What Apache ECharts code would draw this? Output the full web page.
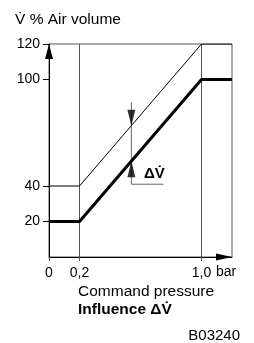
<!DOCTYPE html>
<html>
<head>
<meta charset="utf-8">
<script src="https://cdn.jsdelivr.net/npm/echarts@6/dist/echarts.min.js"></script>
<style>
  html, body { margin: 0; padding: 0; background: #fff; }
  #chart { width: 254px; height: 343px; }
</style>
</head>
<body>
<div id="chart"></div>
<script>
// command pressure (bar) and air volume (%)
var pressure = [0, 0.2, 1.0, 1.2];
var volumeLow = [20, 20, 100, 100];
var volumeHigh = [40, 40, 120, 120];

var yTicks = [20, 40, 100, 120];
var xTicks = [0, 0.2, 1.0];

// delta V marker
var deltaX = 0.54;
var deltaTop = 87;
var deltaBase = 41;
var deltaEndX = 0.75;
var arrowDownAt = 74;
var arrowUpAt = 54;

var font = "'Liberation Sans', Arial, sans-serif";

function pairs(xs, ys) {
  return xs.map(function (x, i) { return [x, ys[i]]; });
}

var chart = echarts.init(document.getElementById('chart'));

chart.setOption({
  animation: false,
  grid: {
    left: 49, right: 22, top: 44, bottom: 86,
    show: true, borderColor: '#555', borderWidth: 1
  },
  xAxis: {
    type: 'value', min: 0, max: 1.2,
    axisLine: {
      lineStyle: { color: '#000', width: 1 },
      symbol: ['none', 'triangle'], symbolSize: [7, 16], symbolOffset: [0, -8]
    },
    axisTick: { show: true, inside: false, length: 4, customValues: xTicks, lineStyle: { color: '#555' } },
    axisLabel: {
      customValues: xTicks, margin: 9, color: '#000', fontSize: 14, fontFamily: font,
      formatter: function (v) { return v === 0 ? '0' : v.toFixed(1).replace('.', ','); }
    },
    splitLine: { show: true, lineStyle: { color: '#555', width: 1 } }
  },
  yAxis: {
    type: 'value', min: 0, max: 120,
    axisLine: {
      show: true,
      lineStyle: { color: '#000', width: 1 },
      symbol: ['none', 'triangle'], symbolSize: [8, 15], symbolOffset: [0, -7.5]
    },
    axisTick: { show: true, inside: false, length: 6, customValues: yTicks, lineStyle: { color: '#000' } },
    axisLabel: { customValues: yTicks, margin: 9, color: '#000', fontSize: 14, fontFamily: font },
    splitLine: { show: false }
  },
  series: [
    {
      type: 'line', data: pairs(pressure, volumeHigh), symbol: 'none',
      lineStyle: { color: '#000', width: 1 }, z: 3
    },
    {
      type: 'line', data: pairs(pressure, volumeLow), symbol: 'none',
      lineStyle: { color: '#000', width: 3 }, z: 3
    },
    {
      type: 'line', data: [[deltaX, deltaTop], [deltaX, deltaBase], [deltaEndX, deltaBase]],
      symbol: 'none', lineStyle: { color: '#666', width: 1 }, z: 2
    },
    {
      type: 'scatter', symbol: 'triangle', symbolSize: [8, 16], symbolRotate: 180,
      symbolOffset: [0, -8], itemStyle: { color: '#000' },
      data: [[deltaX, arrowDownAt]], z: 4
    },
    {
      type: 'scatter', symbol: 'triangle', symbolSize: [8, 16],
      symbolOffset: [0, 8], itemStyle: { color: '#000' },
      data: [[deltaX, arrowUpAt]], z: 4
    }
  ],
  graphic: [
    { type: 'text', left: 15, top: 12, style: { text: 'V\u0307 % Air volume', fill: '#000', font: '15.5px ' + font } },
    { type: 'text', left: 144, top: 166, style: { text: '\u0394V\u0307', fill: '#000', font: 'bold 15px ' + font } },
    { type: 'text', left: 216, top: 265, style: { text: 'bar', fill: '#000', font: '14px ' + font } },
    { type: 'text', left: 78, top: 284, style: { text: 'Command pressure', fill: '#000', font: '15.5px ' + font } },
    { type: 'text', left: 78, top: 302, style: { text: 'Influence \u0394V\u0307', fill: '#000', font: 'bold 15.5px ' + font } },
    { type: 'text', right: 14, top: 328, style: { text: 'B03240', fill: '#000', font: '15px ' + font } }
  ]
});
</script>
</body>
</html>
